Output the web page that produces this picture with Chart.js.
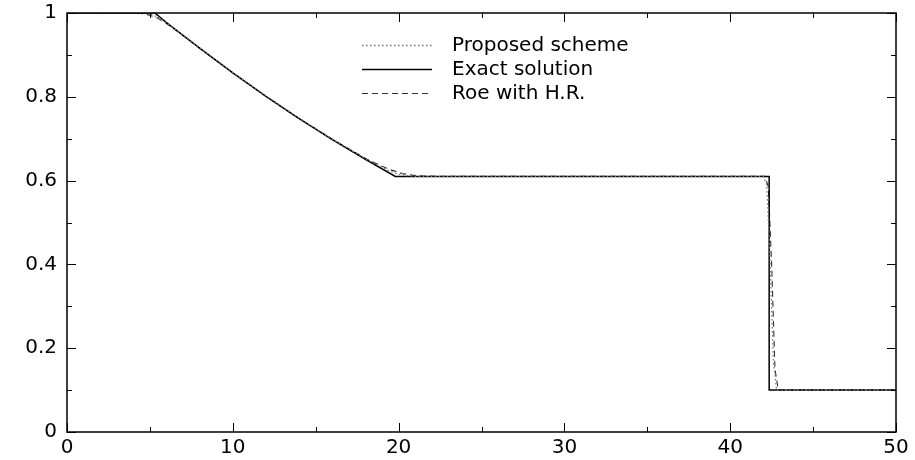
<!DOCTYPE html>
<html>
<head>
<meta charset="utf-8">
<script src="https://cdn.jsdelivr.net/npm/chart.js@4/dist/chart.umd.min.js"></script>
<style>
  html, body { margin: 0; padding: 0; background: #fff; }
  #c { display: block; }
</style>
</head>
<body>
<canvas id="c" width="915" height="460"></canvas>
<script>
// ---- data ----
const legendLabels = ["Proposed scheme", "Exact solution", "Roe with H.R."];

const exactX = [0, 5.3, 6, 8, 10, 12, 14, 16, 18, 19.8, 42.35, 42.35, 50];
const exactY = [1, 1, 0.977, 0.916, 0.857, 0.801, 0.748, 0.698, 0.651, 0.61, 0.61, 0.1, 0.1];

const proposedX = [0, 4.5, 5, 5.5, 6, 7, 8, 10, 12, 14, 16, 18, 19, 19.5, 20, 20.5, 21, 22, 42, 42.2, 42.4, 42.6, 42.8, 50];
const proposedY = [1, 1, 0.998, 0.99, 0.976, 0.947, 0.917, 0.858, 0.802, 0.749, 0.699, 0.652, 0.632, 0.622, 0.615, 0.612, 0.61, 0.61, 0.61, 0.59, 0.42, 0.17, 0.1, 0.1];

const roeX = [0, 4.2, 4.8, 5.4, 6, 7, 8, 10, 12, 14, 16, 18, 19, 19.6, 20.2, 20.8, 21.5, 22.5, 42.1, 42.3, 42.5, 42.7, 42.9, 50];
const roeY = [1, 1, 0.997, 0.989, 0.975, 0.946, 0.916, 0.857, 0.801, 0.748, 0.699, 0.653, 0.634, 0.625, 0.617, 0.613, 0.611, 0.61, 0.61, 0.585, 0.4, 0.15, 0.1, 0.1];

const xTickValues = [0, 10, 20, 30, 40, 50];
const yTickValues = [0, 0.2, 0.4, 0.6, 0.8, 1];

function pts(xs, ys) { return xs.map((x, i) => ({ x: x, y: ys[i] })); }

const FONT = "DejaVu Sans";

const framePlugin = {
  id: 'frameTicks',
  afterDraw(chart) {
    const ctx = chart.ctx;
    const a = chart.chartArea;
    const xs = chart.scales.x, ys = chart.scales.y;
    ctx.save();
    ctx.strokeStyle = '#000';
    ctx.lineWidth = 1.5;
    ctx.setLineDash([]);
    ctx.strokeRect(a.left, a.top, a.right - a.left, a.bottom - a.top);
    ctx.lineWidth = 1;
    ctx.beginPath();
    xs.ticks.forEach(t => {
      const px = Math.round(xs.getPixelForValue(t.value)) + 0.5;
      const major = xTickValues.includes(Math.round(t.value * 1000) / 1000);
      const len = major ? 9 : 5;
      ctx.moveTo(px, a.bottom); ctx.lineTo(px, a.bottom - len);
      ctx.moveTo(px, a.top); ctx.lineTo(px, a.top + len);
    });
    ys.ticks.forEach(t => {
      const py = Math.round(ys.getPixelForValue(t.value)) + 0.5;
      const major = yTickValues.includes(Math.round(t.value * 1000) / 1000);
      const len = major ? 9 : 5;
      ctx.moveTo(a.left, py); ctx.lineTo(a.left + len, py);
      ctx.moveTo(a.right, py); ctx.lineTo(a.right - len, py);
    });
    ctx.stroke();

    // legend
    const rows = [45, 69, 93];
    const x0 = 362, x1 = 432, tx = 452;
    chart.data.datasets.forEach((ds, i) => {
      const y = rows[i] + 0.5;
      ctx.strokeStyle = ds.borderColor;
      ctx.lineWidth = ds.borderWidth;
      ctx.setLineDash(ds.borderDash || []);
      ctx.beginPath();
      ctx.moveTo(x0, y); ctx.lineTo(x1, y);
      ctx.stroke();
      ctx.setLineDash([]);
      ctx.fillStyle = '#000';
      ctx.font = '20px "' + FONT + '"';
      ctx.textBaseline = 'middle';
      ctx.textAlign = 'left';
      ctx.fillText(ds.label, tx, rows[i] + 1);
    });
    ctx.restore();
  }
};

const hiddenGrid = (len) => ({ display: true, drawOnChartArea: false, drawTicks: true, tickLength: len, color: 'rgba(0,0,0,0)' });

new Chart(document.getElementById('c'), {
  type: 'line',
  data: {
    datasets: [
      { label: legendLabels[0], data: pts(proposedX, proposedY), borderColor: '#7a7a7a', borderWidth: 1.3, borderDash: [1.5, 2.5], pointRadius: 0, tension: 0, fill: false },
      { label: legendLabels[1], data: pts(exactX, exactY), borderColor: '#000000', borderWidth: 1.5, pointRadius: 0, tension: 0, fill: false },
      { label: legendLabels[2], data: pts(roeX, roeY), borderColor: '#333333', borderWidth: 1.1, borderDash: [6, 4], pointRadius: 0, tension: 0, fill: false }
    ]
  },
  options: {
    responsive: false,
    animation: false,
    devicePixelRatio: 1,
    layout: { padding: { top: 13, right: 19, left: 0, bottom: 0 } },
    plugins: { legend: { display: false }, tooltip: { enabled: false } },
    scales: {
      x: {
        type: 'linear', min: 0, max: 50,
        grid: hiddenGrid(3), border: { display: false },
        afterFit(s) { s.height = 28; },
        ticks: {
          stepSize: 5, autoSkip: false, maxRotation: 0, padding: 1,
          color: '#000', font: { family: FONT, size: 20 },
          callback(v) { return xTickValues.includes(v) ? String(v) : ''; }
        }
      },
      y: {
        type: 'linear', min: 0, max: 1,
        grid: hiddenGrid(9), border: { display: false },
        afterFit(s) { s.width = 67; },
        ticks: {
          stepSize: 0.1, autoSkip: false, padding: 1,
          color: '#000', font: { family: FONT, size: 20 },
          callback(v) {
            const r = Math.round(v * 10) / 10;
            if (!yTickValues.includes(r)) return '';
            return (r === 0 || r === 1) ? String(r) : r.toFixed(1);
          }
        }
      }
    }
  },
  plugins: [framePlugin]
});
</script>
</body>
</html>
